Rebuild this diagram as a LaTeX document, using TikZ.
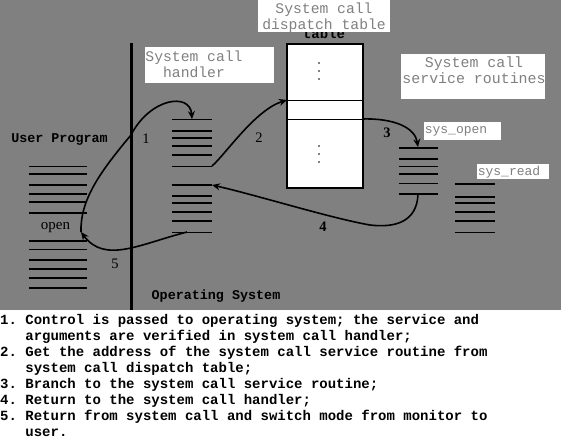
\documentclass[tikz,border=0pt]{standalone}
\usepackage{fontspec}
\setmainfont{Liberation Serif}
\setmonofont{Liberation Mono}
\usepackage{tikz}
\usetikzlibrary{arrows.meta}
\definecolor{bg}{RGB}{128,128,128}

\begin{document}
\begin{tikzpicture}[x=1pt,y=-1pt,
  bar/.style={line width=2.2pt},
  thinbar/.style={line width=1pt},
  flow/.style={-{Stealth[length=8pt,width=7pt]},line width=1.6pt},
  tag/.style={text=bg,font=\ttfamily\fontsize{14.7}{16}\selectfont,align=center,inner sep=0,anchor=base},
  num/.style={font=\fontsize{14.5}{16}\selectfont,inner sep=0,anchor=base},
  bold/.style={font=\ttfamily\bfseries\fontsize{13.4}{16}\selectfont,inner sep=0,anchor=base}]
\useasboundingbox (0,0) rectangle (561,437);
\fill[bg] (0,0) rectangle (561,310);
% user / kernel boundary
\draw[line width=3pt] (131,43) -- (131,310);
% memory stacks
\foreach \y in {174,185,194,202,213,241,260,269,278,288} \draw[bar] (29,\y) -- (87,\y);
\foreach \y in {166,249} \draw[thinbar] (29,\y) -- (87,\y);
\foreach \y in {131,138,146,155,185,196,203,212,221} \draw[bar] (172,\y) -- (212,\y);
\foreach \y in {119,166,232} \draw[thinbar] (172,\y) -- (212,\y);
\foreach \y in {148,159,174,194} \draw[bar] (399,\y) -- (438,\y);
\foreach \y in {166,183} \draw[thinbar] (399,\y) -- (438,\y);
\foreach \y in {184,197,203,212,221} \draw[bar] (455,\y) -- (495,\y);
\draw[thinbar] (455,232) -- (495,232);
% dispatch table
\node[draw,line width=1.5pt,fill=white,minimum width=76,minimum height=144,inner sep=0,anchor=north west] (tbl) at (286,43) {};
\draw[thinbar] (286,100) -- (362,100);
\draw[thinbar] (286,119) -- (362,119);
\foreach \y in {63,71,79,146,154,162} \fill (319,\y) circle (0.8pt);
\node[bold,font=\ttfamily\bfseries\fontsize{14}{16}\selectfont] (tbltxt) at (324,38) {table};
% white labels
\fill[white] (145,47) rectangle (274,83);
\fill[white] (258,0) rectangle (390,32);
\fill[white] (401,54) rectangle (545,99);
\fill[white] (424,122) rectangle (501,140);
\fill[white] (477,164) rectangle (549,179);
\node[tag] (hdltag) at (194,77) {System call\\handler};
\node[tag] (dsptag) at (324,29) {System call\\dispatch table};
\node[tag,font=\ttfamily\fontsize{14.9}{15.5}\selectfont] (svctag) at (474,83) {System call\\service routines};
\node[tag,font=\ttfamily\fontsize{13}{15}\selectfont] (opentag) at (456,133) {sys\_open};
\node[tag,font=\ttfamily\fontsize{13}{15}\selectfont] (readtag) at (509,175) {sys\_read};
\node[bold] (user) at (59.5,142) {User Program};
\node[bold] (os) at (216,299) {Operating System};
\node[num,font=\fontsize{15}{16}\selectfont] (open) at (55.5,229) {open};
% connectors
\coordinate (call) at (81,232);
\coordinate (cross) at (131,135);
\coordinate (hdlin) at (192,119);
\coordinate (hdlgo) at (212,166);
\coordinate (hdlback) at (212,185);
\coordinate (hdlret) at (187,232);
\coordinate (tblin) at (287,100);
\coordinate (tblout) at (362,119);
\coordinate (openin) at (418,147);
\coordinate (openout) at (418,194);
\coordinate (dip) at (370,225);
\draw[flow] (call) .. controls (80,200) and (100,172) .. (cross) .. controls (150,98) and (190,92) .. (hdlin);
\draw[flow] (hdlgo) .. controls (225,155) and (255,110) .. (tblin);
\draw[flow] (tblout) .. controls (395,118) and (415,128) .. (openin);
\draw[flow] (openout) .. controls (417,222) and (395,228) .. (dip) .. controls (330,218) and (260,196) .. (hdlback);
\draw[flow] (hdlret) .. controls (140,244) and (105,264) .. (call);
\node[num] (n1) at (146,143) {1};
\node[num] (n2) at (259,142) {2};
\node[num,font=\bfseries\fontsize{14.5}{16}\selectfont] (n3) at (387,137) {3};
\node[num,font=\bfseries\fontsize{14.5}{16}\selectfont] (n4) at (323,231) {4};
\node[num] (n5) at (115,268) {5};
% steps
\node[font=\ttfamily\bfseries\fontsize{14}{16}\selectfont,align=left,inner sep=0,anchor=base west] (steps) at (0,436)
  {1. Control is passed to operating system; the service and\\
   \hphantom{1.\ }arguments are verified in system call handler;\\
   2. Get the address of the system call service routine from\\
   \hphantom{1.\ }system call dispatch table;\\
   3. Branch to the system call service routine;\\
   4. Return to the system call handler;\\
   5. Return from system call and switch mode from monitor to\\
   \hphantom{1.\ }user.};
\end{tikzpicture}
\end{document}
